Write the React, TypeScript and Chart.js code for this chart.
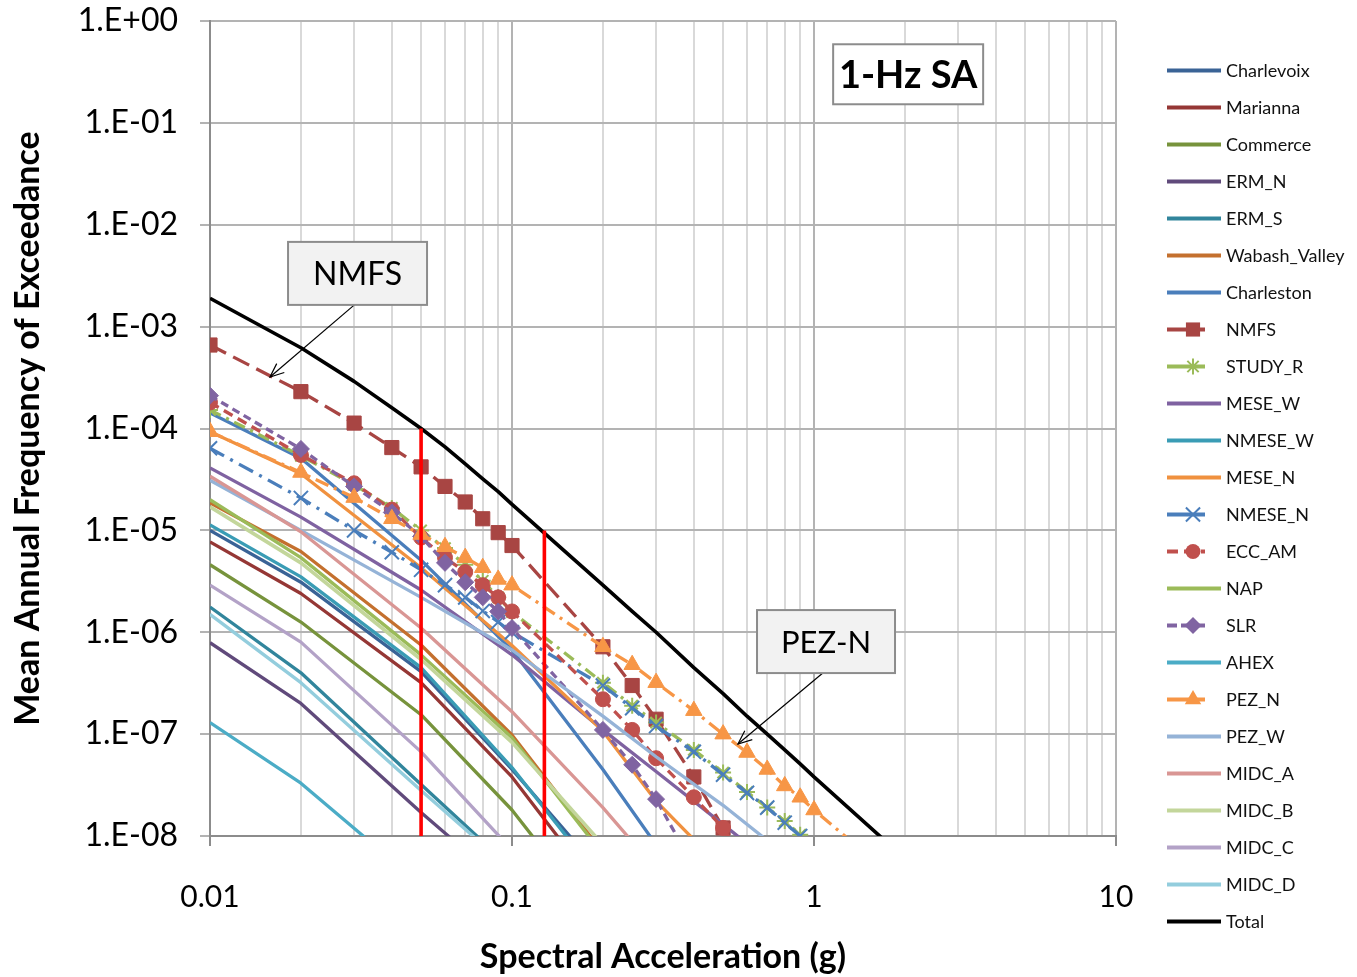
import React, { useEffect, useRef } from 'react';
import { Chart, registerables } from 'chart.js';

Chart.register(...registerables);

const FONT = "Lato, 'Open Sans', 'DejaVu Sans', sans-serif";

// Spectral acceleration grids (g)
const SA_FINE = [0.01, 0.02, 0.03, 0.04, 0.05, 0.06, 0.07, 0.08, 0.09, 0.1, 0.2, 0.25, 0.3, 0.4, 0.5, 0.6, 0.7, 0.8, 0.9, 1, 2];
const SA_COARSE = [0.01, 0.02, 0.05, 0.1, 0.2, 0.3, 0.5, 1];

// Mean annual frequency of exceedance, per source (coarse grid)
const CHARLEVOIX = [1.0e-5, 3.1e-6, 4.1e-7, 4.5e-8, 4.2e-9];
const MARIANNA = [7.7e-6, 2.4e-6, 3.2e-7, 3.8e-8, 2.6e-9];
const COMMERCE = [4.6e-6, 1.26e-6, 1.55e-7, 1.8e-8, 1.3e-9];
const ERM_N = [7.9e-7, 2.0e-7, 1.7e-8, 2.9e-9];
const ERM_S = [1.77e-6, 4.0e-7, 3.2e-8, 4.8e-9];
const WABASH_VALLEY = [1.86e-5, 6.2e-6, 7.5e-7, 9.8e-8, 6.9e-9];
const CHARLESTON = [1.42e-4, 5.1e-5, 5.1e-6, 6.7e-7, 4.5e-8, 8.2e-9];
const MESE_W = [4.1e-5, 1.35e-5, 2.6e-6, 6.0e-7, 1.1e-7, 4.3e-8, 1.3e-8, 2.5e-9];
const NMESE_W = [1.13e-5, 3.5e-6, 4.5e-7, 4.7e-8, 3.5e-9];
const MESE_N = [9.3e-5, 3.6e-5, 4.3e-6, 7.4e-7, 1.07e-7, 2.2e-8, 4.7e-9];
const NAP = [2.0e-5, 5.4e-6, 6.0e-7, 9.2e-8, 6.6e-9];
const AHEX = [1.3e-7, 3.3e-8, 3.3e-9];
const PEZ_W = [3.1e-5, 1.0e-5, 2.2e-6, 6.7e-7, 1.5e-7, 6.0e-8, 2.0e-8, 3.9e-9];
const MIDC_A = [3.4e-5, 9.7e-6, 1.1e-6, 1.66e-7, 1.9e-8, 4.7e-9];
const MIDC_B = [1.7e-5, 4.8e-6, 5.4e-7, 8.3e-8, 8.2e-9];
const MIDC_C = [2.9e-6, 8.0e-7, 6.7e-8, 7.3e-9];
const MIDC_D = [1.5e-6, 3.2e-7, 2.8e-8, 4.6e-9];

// Marker series (fine grid)
const NMFS = [6.6e-4, 2.3e-4, 1.13e-4, 6.5e-5, 4.2e-5, 2.7e-5, 1.9e-5, 1.3e-5, 9.5e-6, 7.1e-6, 7.2e-7, 3.0e-7, 1.4e-7, 3.8e-8, 1.2e-8, 4.0e-9];
const STUDY_R = [1.52e-4, 5.4e-5, 2.8e-5, 1.66e-5, 1.0e-5, 6.7e-6, 4.6e-6, 3.2e-6, 2.2e-6, 1.58e-6, 3.2e-7, 1.9e-7, 1.3e-7, 7.0e-8, 4.2e-8, 2.7e-8, 1.9e-8, 1.4e-8, 1.03e-8, 7.7e-9];
const NMESE_N = [6.4e-5, 2.08e-5, 1.0e-5, 6.1e-6, 4.1e-6, 2.9e-6, 2.2e-6, 1.62e-6, 1.26e-6, 1.0e-6, 3.0e-7, 1.8e-7, 1.2e-7, 6.7e-8, 4.0e-8, 2.65e-8, 1.9e-8, 1.35e-8, 1.0e-8, 7.4e-9];
const ECC_AM = [1.8e-4, 5.5e-5, 2.9e-5, 1.6e-5, 8.5e-6, 5.4e-6, 3.9e-6, 2.9e-6, 2.2e-6, 1.6e-6, 2.2e-7, 1.1e-7, 5.8e-8, 2.4e-8, 1.2e-8, 5.0e-9];
const SLR = [2.1e-4, 6.3e-5, 2.7e-5, 1.5e-5, 8.7e-6, 4.8e-6, 3.1e-6, 2.2e-6, 1.6e-6, 1.1e-6, 1.1e-7, 5.0e-8, 2.3e-8, 5.0e-9];
const PEZ_N = [9.3e-5, 3.7e-5, 2.1e-5, 1.3e-5, 9.1e-6, 6.9e-6, 5.4e-6, 4.3e-6, 3.3e-6, 2.9e-6, 7.2e-7, 4.8e-7, 3.2e-7, 1.7e-7, 1.0e-7, 6.6e-8, 4.5e-8, 3.1e-8, 2.4e-8, 1.8e-8, 3.2e-9];
const TOTAL = [1.9e-3, 6.2e-4, 2.9e-4, 1.6e-4, 1.0e-4, 6.6e-5, 4.5e-5, 3.2e-5, 2.4e-5, 1.8e-5, 2.9e-6, 1.6e-6, 1.0e-6, 4.5e-7, 2.5e-7, 1.5e-7, 1.0e-7, 7.0e-8, 5.1e-8, 3.8e-8, 6.0e-9];

// Vertical reference lines (red)
const REF_SA = [0.05, 0.128];
const REF_TOP = [1e-4, 1e-5];
const REF_BOTTOM = 1e-8;

// Axis ticks
const Y_TICKS = [1, 1e-1, 1e-2, 1e-3, 1e-4, 1e-5, 1e-6, 1e-7, 1e-8];
const X_MAJOR = [0.01, 0.1, 1, 10];
const X_MAJOR_LABELS = ['0.01', '0.1', '1', '10'];

type Series = {
  name: string;
  grid: number[];
  values: number[];
  color: string;
  width?: number;
  dash?: number[];
  legendDash?: number[];
  point?: string;
  radius?: number;
  pointWidth?: number;
};

const SERIES: Series[] = [
  { name: 'Charlevoix', grid: SA_COARSE, values: CHARLEVOIX, color: '#3a6396' },
  { name: 'Marianna', grid: SA_COARSE, values: MARIANNA, color: '#953735' },
  { name: 'Commerce', grid: SA_COARSE, values: COMMERCE, color: '#77933c' },
  { name: 'ERM_N', grid: SA_COARSE, values: ERM_N, color: '#604a7b' },
  { name: 'ERM_S', grid: SA_COARSE, values: ERM_S, color: '#31859c' },
  { name: 'Wabash_Valley', grid: SA_COARSE, values: WABASH_VALLEY, color: '#c4702e' },
  { name: 'Charleston', grid: SA_COARSE, values: CHARLESTON, color: '#4a7ebb' },
  { name: 'NMFS', grid: SA_FINE, values: NMFS, color: '#a84543', dash: [18, 8], point: 'rect', radius: 10 },
  { name: 'STUDY_R', grid: SA_FINE, values: STUDY_R, color: '#9bbb59', dash: [12, 6, 3, 6], point: 'star', radius: 8, pointWidth: 2 },
  { name: 'MESE_W', grid: SA_COARSE, values: MESE_W, color: '#7f62a1' },
  { name: 'NMESE_W', grid: SA_COARSE, values: NMESE_W, color: '#3a9cb5' },
  { name: 'MESE_N', grid: SA_COARSE, values: MESE_N, color: '#f0913f' },
  { name: 'NMESE_N', grid: SA_FINE, values: NMESE_N, color: '#4a7ebb', dash: [16, 7, 3, 7], point: 'crossRot', radius: 10, pointWidth: 2 },
  { name: 'ECC_AM', grid: SA_FINE, values: ECC_AM, color: '#c0504d', dash: [10, 6], legendDash: [11, 6], point: 'circle', radius: 7.5 },
  { name: 'NAP', grid: SA_COARSE, values: NAP, color: '#9bbb59' },
  { name: 'SLR', grid: SA_FINE, values: SLR, color: '#8064a2', dash: [8, 5], legendDash: [10, 4], point: 'rectRot', radius: 8.5 },
  { name: 'AHEX', grid: SA_COARSE, values: AHEX, color: '#4bacc6' },
  { name: 'PEZ_N', grid: SA_FINE, values: PEZ_N, color: '#f79646', dash: [14, 6, 3, 6], point: 'triangle', radius: 9.5 },
  { name: 'PEZ_W', grid: SA_COARSE, values: PEZ_W, color: '#95b3d7' },
  { name: 'MIDC_A', grid: SA_COARSE, values: MIDC_A, color: '#d99694' },
  { name: 'MIDC_B', grid: SA_COARSE, values: MIDC_B, color: '#c3d69b', width: 3.6 },
  { name: 'MIDC_C', grid: SA_COARSE, values: MIDC_C, color: '#b3a2c7' },
  { name: 'MIDC_D', grid: SA_COARSE, values: MIDC_D, color: '#93cddd' },
  { name: 'Total', grid: SA_FINE, values: TOTAL, color: '#000000', width: 3.6 },
];

// Text call-outs anchored in data space
const ANNOTATIONS = [
  { text: '1-Hz SA', at: [2.05, 0.3], w: 150, h: 60, bold: true, size: 38, fill: '#ffffff' },
  { text: 'NMFS', at: [0.0308, 3.33e-3], w: 139, h: 63, bold: false, size: 32, fill: '#f2f2f2', arrowTo: [0.0158, 3.2e-4] },
  { text: 'PEZ-N', at: [1.096, 8.1e-7], w: 138, h: 63, bold: false, size: 31, fill: '#f2f2f2', arrowTo: [0.56, 8.0e-8] },
];

const isMajorX = (v: number) => X_MAJOR.some((m) => Math.abs(Math.log10(v) - Math.log10(m)) < 1e-6);
const xLabel = (v: number) => {
  const i = X_MAJOR.findIndex((m) => Math.abs(Math.log10(v) - Math.log10(m)) < 1e-6);
  return i >= 0 ? X_MAJOR_LABELS[i] : '';
};
const yLabel = (v: number) => {
  const e = Math.round(Math.log10(v));
  return `1.E${e < 0 ? '-' : '+'}${String(Math.abs(e)).padStart(2, '0')}`;
};

function buildXTicks() {
  const t: number[] = [];
  for (let d = -2; d <= 0; d++) {
    for (let k = 1; k <= 9; k++) t.push(parseFloat((k * Math.pow(10, d)).toPrecision(6)));
  }
  t.push(10);
  return t;
}

function drawMarker(ctx: CanvasRenderingContext2D, style: string, x: number, y: number, r: number, color: string, lw: number) {
  ctx.save();
  ctx.setLineDash([]);
  ctx.fillStyle = color;
  ctx.strokeStyle = color;
  ctx.lineWidth = lw;
  ctx.beginPath();
  if (style === 'rect') {
    const s = r * Math.SQRT1_2;
    ctx.rect(x - s, y - s, 2 * s, 2 * s);
    ctx.fill();
  } else if (style === 'circle') {
    ctx.arc(x, y, r, 0, Math.PI * 2);
    ctx.fill();
  } else if (style === 'rectRot') {
    ctx.moveTo(x, y - r);
    ctx.lineTo(x + r, y);
    ctx.lineTo(x, y + r);
    ctx.lineTo(x - r, y);
    ctx.closePath();
    ctx.fill();
  } else if (style === 'triangle') {
    let a = 0;
    ctx.moveTo(x + Math.sin(a) * r, y - Math.cos(a) * r);
    a += (2 * Math.PI) / 3;
    ctx.lineTo(x + Math.sin(a) * r, y - Math.cos(a) * r);
    a += (2 * Math.PI) / 3;
    ctx.lineTo(x + Math.sin(a) * r, y - Math.cos(a) * r);
    ctx.closePath();
    ctx.fill();
  } else if (style === 'crossRot' || style === 'star') {
    const o = r * Math.SQRT1_2;
    ctx.moveTo(x - o, y - o);
    ctx.lineTo(x + o, y + o);
    ctx.moveTo(x - o, y + o);
    ctx.lineTo(x + o, y - o);
    if (style === 'star') {
      ctx.moveTo(x, y - r);
      ctx.lineTo(x, y + r);
      ctx.moveTo(x - r, y);
      ctx.lineTo(x + r, y);
    }
    ctx.stroke();
  }
  ctx.restore();
}

const overlayPlugin = {
  id: 'overlay',
  afterDraw(chart: any) {
    const { ctx, scales } = chart;
    const xs = scales.x;
    const ys = scales.y;
    ctx.save();
    // call-outs
    for (const a of ANNOTATIONS as any[]) {
      const cx = xs.getPixelForValue(a.at[0]);
      const cy = ys.getPixelForValue(a.at[1]);
      const left = cx - a.w / 2;
      const top = cy - a.h / 2;
      if (a.arrowTo) {
        const tx = xs.getPixelForValue(a.arrowTo[0]);
        const ty = ys.getPixelForValue(a.arrowTo[1]);
        const sx = cx - 2;
        const sy = top + a.h - 1;
        ctx.setLineDash([]);
        ctx.strokeStyle = '#000';
        ctx.lineWidth = 1.2;
        ctx.beginPath();
        ctx.moveTo(sx, sy);
        ctx.lineTo(tx, ty);
        ctx.stroke();
        const ang = Math.atan2(ty - sy, tx - sx);
        const L = 15;
        const sp = 0.4;
        ctx.beginPath();
        ctx.moveTo(tx - L * Math.cos(ang - sp), ty - L * Math.sin(ang - sp));
        ctx.lineTo(tx, ty);
        ctx.lineTo(tx - L * Math.cos(ang + sp), ty - L * Math.sin(ang + sp));
        ctx.stroke();
      }
      ctx.fillStyle = a.fill;
      ctx.fillRect(left, top, a.w, a.h);
      ctx.strokeStyle = '#8c8c8c';
      ctx.lineWidth = 2;
      ctx.strokeRect(left, top, a.w, a.h);
      ctx.fillStyle = '#000';
      ctx.font = `${a.bold ? 'bold ' : ''}${a.size}px ${FONT}`;
      ctx.textAlign = 'center';
      ctx.textBaseline = 'middle';
      ctx.fillText(a.text, cx, cy + 1);
    }
    // legend
    SERIES.forEach((s, i) => {
      const y = 70.5 + i * 37;
      const x0 = 1167;
      const x1 = s.point ? 1205 : 1221;
      ctx.save();
      ctx.strokeStyle = s.color;
      ctx.lineWidth = 3.8;
      ctx.setLineDash(s.legendDash ?? []);
      ctx.lineCap = 'butt';
      ctx.beginPath();
      ctx.moveTo(x0, y);
      ctx.lineTo(x1, y);
      ctx.stroke();
      ctx.restore();
      if (s.point) drawMarker(ctx, s.point, 1193, y, s.radius ?? 7, s.color, s.pointWidth ?? 1);
      ctx.fillStyle = '#111';
      ctx.font = `18px ${FONT}`;
      ctx.textAlign = 'left';
      ctx.textBaseline = 'middle';
      ctx.fillText(s.name, 1226, y + 1);
    });
    ctx.restore();
  },
};

export default function App() {
  const ref = useRef<HTMLCanvasElement>(null);
  useEffect(() => {
    if (!ref.current) return;
    Chart.defaults.font.family = FONT;
    Chart.defaults.color = '#000';
    const n = SERIES.length;
    const datasets: any[] = SERIES.map((s, i) => ({
      label: s.name,
      data: s.grid
        .map((x, j) => ({ x, y: s.values[j] }))
        .filter((p) => p.y !== undefined && p.y !== null),
      borderColor: s.color,
      backgroundColor: s.color,
      borderWidth: s.width ?? 3.3,
      borderDash: s.dash ?? [],
      borderJoinStyle: 'round',
      pointStyle: s.point ?? 'circle',
      pointRadius: s.point ? s.radius : 0,
      pointBorderWidth: s.pointWidth ?? 1,
      pointBackgroundColor: s.color,
      pointBorderColor: s.color,
      tension: 0,
      fill: false,
      order: n + 10 - i,
    }));
    REF_SA.forEach((x, i) => {
      datasets.push({
        label: `ref${i}`,
        data: [
          { x, y: REF_TOP[i] },
          { x, y: REF_BOTTOM },
        ],
        borderColor: '#ff0000',
        borderWidth: 3.6,
        pointRadius: 0,
        fill: false,
        order: 1,
      });
    });
    const X_TICKS = buildXTicks();
    const chart = new Chart(ref.current, {
      type: 'line',
      data: { datasets },
      options: {
        responsive: false,
        animation: false,
        events: [],
        layout: { padding: { left: 0, top: 21, right: 241, bottom: 0 } },
        plugins: { legend: { display: false }, tooltip: { enabled: false } },
        scales: {
          x: {
            type: 'logarithmic',
            min: 0.01,
            max: 10,
            afterBuildTicks: (scale: any) => {
              scale.ticks = X_TICKS.map((v) => ({ value: v }));
            },
            afterFit: (scale: any) => {
              scale.height = 141;
            },
            ticks: {
              autoSkip: false,
              maxRotation: 0,
              padding: 33,
              color: '#000',
              font: { size: 30, family: FONT },
              callback: (v: any) => xLabel(Number(v)),
            },
            grid: {
              color: (c: any) => (c.tick && isMajorX(c.tick.value) ? '#b3b3b3' : '#d9d9d9'),
              lineWidth: 2,
              tickLength: 10,
              tickColor: (c: any) => (c.tick && isMajorX(c.tick.value) ? '#8c8c8c' : 'rgba(0,0,0,0)'),
            },
            border: { color: '#8c8c8c', width: 2 },
            title: {
              display: true,
              text: 'Spectral Acceleration (g)',
              color: '#000',
              font: { size: 34, weight: 'bold', family: FONT },
              padding: { top: 0, bottom: 0 },
            },
          },
          y: {
            type: 'logarithmic',
            min: 1e-8,
            max: 1,
            afterBuildTicks: (scale: any) => {
              scale.ticks = Y_TICKS.map((v) => ({ value: v }));
            },
            afterFit: (scale: any) => {
              scale.width = 210;
              scale.paddingTop = 0;
              scale.paddingBottom = 0;
            },
            ticks: {
              autoSkip: false,
              padding: 22,
              color: '#000',
              font: { size: 32, family: FONT },
              callback: (v: any) => yLabel(Number(v)),
            },
            grid: {
              color: '#b3b3b3',
              lineWidth: 2,
              tickLength: 10,
              tickColor: '#b3b3b3',
            },
            border: { color: '#8c8c8c', width: 2 },
            title: {
              display: true,
              text: 'Mean Annual Frequency of Exceedance',
              color: '#000',
              font: { size: 34, weight: 'bold', family: FONT },
              padding: { top: 8, bottom: 0 },
            },
          },
        },
      } as any,
      plugins: [overlayPlugin],
    });
    return () => chart.destroy();
  }, []);
  return (
    <div style={{ position: 'absolute', left: 0, top: 0, width: 1357, height: 977, background: '#fff' }}>
      <canvas ref={ref} width={1357} height={977} style={{ width: 1357, height: 977, display: 'block' }} />
    </div>
  );
}
